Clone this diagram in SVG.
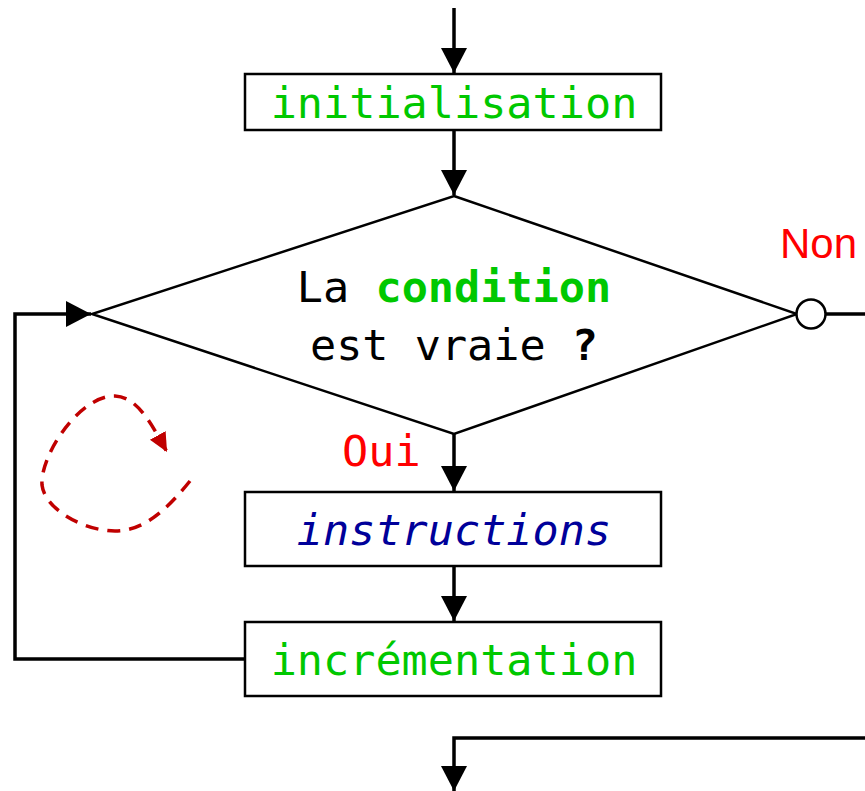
<svg xmlns="http://www.w3.org/2000/svg" width="865" height="791" viewBox="0 0 865 791">
<style>
.box{fill:#fff;stroke:#000;stroke-width:2.5}
.mono{font-family:"DejaVu Sans Mono","Liberation Mono",monospace;font-size:43.5px}
.green{fill:#00c800}
.conn{fill:none;stroke:#000;stroke-width:3.5}
</style>
<defs>
<marker id="ah" markerUnits="userSpaceOnUse" markerWidth="26" markerHeight="26" viewBox="0 0 26 26" refX="25" refY="13" orient="auto">
<path d="M0,0 L25,13 L0,26 Z" fill="#000"/>
</marker>
<marker id="rh" markerUnits="userSpaceOnUse" markerWidth="20" markerHeight="20" viewBox="0 0 20 20" refX="19" refY="10" orient="auto">
<path d="M0,1 L19,10 L0,19 Z" fill="#c00000"/>
</marker>
</defs>
<g id="connectors">
<path class="conn" d="M454,8 V73" marker-end="url(#ah)"/>
<path class="conn" d="M454,130 V195" marker-end="url(#ah)"/>
<path class="conn" d="M454,434 V491" marker-end="url(#ah)"/>
<path class="conn" d="M454,566 V621" marker-end="url(#ah)"/>
<path class="conn" d="M245,659 H15 V314 H91" marker-end="url(#ah)"/>
<path class="conn" d="M826,314 H865"/>
<path class="conn" d="M865,738 H454 V791" marker-end="url(#ah)"/>
<path d="M190,481 C168,508 145,531 115,531 C85,531 45,510 42,485 C40,455 80,395 115,396 C138,397 152,425 167,452" fill="none" stroke="#c00000" stroke-width="3.5" stroke-dasharray="13,9" marker-end="url(#rh)"/>
</g>
<g id="init">
<rect class="box" x="245" y="74" width="416" height="56"/>
<text class="mono green" x="454" y="118" text-anchor="middle">initialisation</text>
</g>
<g id="decision">
<path d="M454,196 L797,314 L454,434 L92,314 Z" fill="#fff" stroke="#000" stroke-width="2.5"/>
<text class="mono" x="454" y="302" text-anchor="middle"><tspan fill="#000">La </tspan><tspan class="green" font-weight="bold">condition</tspan></text>
<text class="mono" x="454" y="360" text-anchor="middle" fill="#000">est vraie <tspan font-weight="bold">?</tspan></text>
<circle cx="811" cy="314" r="14.5" fill="#fff" stroke="#000" stroke-width="2.5"/>
<text x="780" y="258" font-family="Liberation Sans,Arial,sans-serif" font-size="42" fill="#ff0000">Non</text>
<text class="mono" x="342" y="466" fill="#ff0000">Oui</text>
</g>
<g id="instructions">
<rect class="box" x="245" y="492" width="416" height="74"/>
<text class="mono" x="454" y="545" text-anchor="middle" font-style="italic" fill="#00009a">instructions</text>
</g>
<g id="increment">
<rect class="box" x="245" y="622" width="416" height="74"/>
<text class="mono green" x="454" y="675" text-anchor="middle">incrémentation</text>
</g>
</svg>
